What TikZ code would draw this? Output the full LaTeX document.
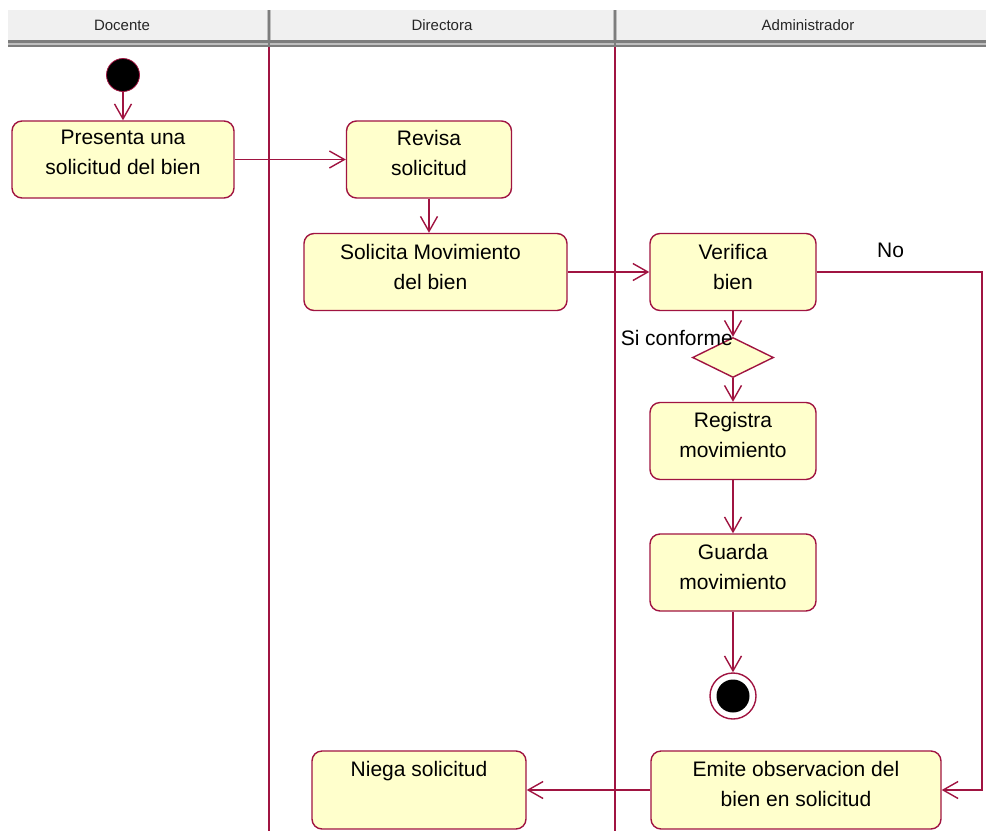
\documentclass[tikz,border=0pt]{standalone}
\usepackage{fontspec}
\setmainfont{Liberation Sans}
\usetikzlibrary{arrows.meta,shapes.geometric}
\definecolor{umlline}{RGB}{160,20,65}
\definecolor{umlfill}{RGB}{255,255,204}
\definecolor{hdrfill}{RGB}{240,240,240}
\definecolor{hdrdark}{RGB}{125,125,125}
\definecolor{hdrmid}{RGB}{190,190,190}
\begin{document}
\begin{tikzpicture}[x=1pt,y=-1pt,
  flow/.style={draw=umlline, line width=1.4pt,
    -{Straight Barb[length=15pt,width=17pt,line width=1.4pt]}},
  act/.style={draw=umlline, line width=1.4pt, fill=umlfill,
    rounded corners=10pt, inner sep=0pt},
  acttext/.style={font=\fontsize{21}{30}\selectfont, align=center,
    inner sep=0pt, anchor=north, text=black},
  guard/.style={font=\fontsize{21}{25}\selectfont, inner sep=0pt, text=black},
  lanehead/.style={font=\fontsize{15}{18}\selectfont, inner sep=0pt, text=black!85},
  lane/.style={draw=umlline, line width=1.4pt}
]
\path[use as bounding box] (0,0) rectangle (986,831);

% swimlane header strip
\fill[hdrfill] (8,10) rectangle (986,40);
\fill[hdrdark] (8,40) rectangle (986,47);
\fill[hdrmid] (8,42.5) rectangle (986,44.5);
\foreach \xx in {269,615}{
  \draw[hdrmid, line width=4pt] (\xx,10) -- (\xx,40);
  \draw[hdrdark, line width=1.6pt] (\xx,10) -- (\xx,47);
}
\node[lanehead] (h1) at (122,25) {Docente};
\node[lanehead] (h2) at (442,25) {Directora};
\node[lanehead] (h3) at (808,25) {Administrador};

% lane separators
\draw[lane] (269,47) -- (269,831);
\draw[lane] (615,47) -- (615,831);

% initial node
\node[circle, fill=black, draw=umlline, line width=0.8pt, minimum size=33pt, inner sep=0pt] (start) at (123,75) {};

% activities
\node[act, minimum width=222pt, minimum height=77pt] (presenta) at (123,159.5) {};
\node[acttext] (presenta-t) at ([yshift=-10pt]presenta.north) {Presenta una\\solicitud del bien};

\node[act, minimum width=165pt, minimum height=77pt] (revisa) at (429,159.5) {};
\node[acttext] (revisa-t) at ([yshift=-10pt]revisa.north) {Revisa\\solicitud};

\node[act, minimum width=263pt, minimum height=77pt] (solicita) at (435.5,272) {};
\node[acttext] (solicita-t) at ([yshift=-11pt,xshift=-5pt]solicita.north) {Solicita Movimiento\\del bien};

\node[act, minimum width=166pt, minimum height=77pt] (verifica) at (733,272) {};
\node[acttext] (verifica-t) at ([yshift=-11pt]verifica.north) {Verifica\\bien};

\node[diamond, draw=umlline, fill=umlfill, line width=1.4pt, aspect=2,
  minimum width=81pt, minimum height=40pt, inner sep=0pt] (decision) at (733,357.5) {};

\node[act, minimum width=166pt, minimum height=77pt] (registra) at (733,441) {};
\node[acttext] (registra-t) at ([yshift=-10pt]registra.north) {Registra\\movimiento};

\node[act, minimum width=166pt, minimum height=77pt] (guarda) at (733,572.5) {};
\node[acttext] (guarda-t) at ([yshift=-11pt]guarda.north) {Guarda\\movimiento};

% final node
\node[circle, draw=umlline, line width=1.4pt, fill=white, minimum size=46pt, inner sep=0pt] (final) at (733,696) {};
\node[circle, fill=black, minimum size=33pt, inner sep=0pt] (final-dot) at (final.center) {};

\node[act, minimum width=214pt, minimum height=78pt] (niega) at (419,790) {};
\node[acttext] (niega-t) at ([yshift=-11pt]niega.north) {Niega solicitud};

\node[act, minimum width=290pt, minimum height=78pt] (emite) at (796,790) {};
\node[acttext] (emite-t) at ([yshift=-11pt]emite.north) {Emite observacion del\\bien en solicitud};

% control flows
\coordinate (noturn) at (982,0);
\draw[flow] (start) -- (presenta.north);
\draw[flow] (presenta.east) -- (revisa.west);
\draw[flow] (revisa.south) -- (revisa.south |- solicita.north);
\draw[flow] (solicita.east) -- (verifica.west);
\draw[flow] (verifica.south) -- (decision.north);
\draw[flow] (decision.south) -- (registra.north);
\draw[flow] (registra.south) -- (guarda.north);
\draw[flow] (guarda.south) -- (final.north);
\draw[flow] (verifica.east) -- (verifica.east -| noturn) -- (noturn |- emite.east) -- (emite.east);
\draw[flow] (emite.west) -- (niega.east);

% guard labels
\node[guard, anchor=base east] (si) at (733,345) {Si conforme};
\node[guard, anchor=base west] (no) at (877,257) {No};
\end{tikzpicture}
\end{document}
